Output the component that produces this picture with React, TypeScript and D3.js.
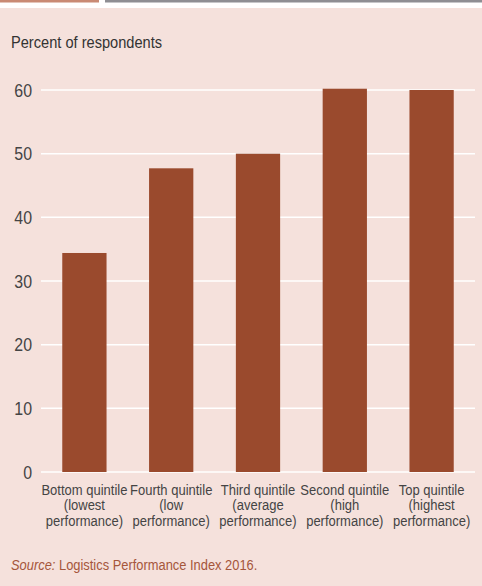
import React from "react";
import * as d3 from "d3";

const categories: string[][] = [
  ["Bottom quintile", "(lowest", "performance)"],
  ["Fourth quintile", "(low", "performance)"],
  ["Third quintile", "(average", "performance)"],
  ["Second quintile", "(high", "performance)"],
  ["Top quintile", "(highest", "performance)"],
];
const values: number[] = [34.4, 47.7, 50.0, 60.2, 60.0];
const yTicks: number[] = [0, 10, 20, 30, 40, 50, 60];

const W = 482;
const H = 586;
const FONT = "'Liberation Sans', Arial, sans-serif";
const SX = 0.86;
const SX_CAT = 0.85;

export default function App() {
  const left = 41;
  const right = 475;
  const y0 = 472;
  const y60 = 90;
  const x = d3
    .scaleBand<number>()
    .domain(d3.range(categories.length))
    .range([left, right])
    .paddingInner(0.49)
    .paddingOuter(0.245);
  const y = d3.scaleLinear().domain([0, 60]).range([y0, y60]);

  return (
    <svg
      width={W}
      height={H}
      style={{ position: "absolute", left: 0, top: 0, display: "block" }}
      fontFamily={FONT}
    >
      <rect x={0} y={0} width={W} height={H} fill="#ffffff" />
      <rect x={0} y={8} width={W} height={H - 8} fill="#f5e1dc" />
      <rect x={0} y={0} width={99} height={2.5} fill="#c98a74" />
      <rect x={105} y={0} width={W - 105} height={2.5} fill="#8e8e93" />
      <g transform={`translate(11,48) scale(${SX},1)`}>
        <text x={0} y={0} fontSize={17} fill="#333333">
          Percent of respondents
        </text>
      </g>
      {yTicks.map((t) => (
        <g key={t}>
          <line x1={left} x2={right} y1={y(t)} y2={y(t)} stroke="#ffffff" strokeWidth={1.5} />
          <g transform={`translate(32,${y(t)}) scale(${SX},1)`}>
            <text x={0} y={0} dy="0.36em" textAnchor="end" fontSize={18.5} fill="#444444">
              {t}
            </text>
          </g>
        </g>
      ))}
      {values.map((v, i) => (
        <rect
          key={i}
          x={x(i)!}
          y={y(v)}
          width={x.bandwidth()}
          height={y(0) - y(v)}
          fill="#9a4a2d"
        />
      ))}
      {categories.map((lines, i) => (
        <g key={i} transform={`translate(${x(i)! + x.bandwidth() / 2},495) scale(${SX_CAT},1)`}>
          <text x={0} y={0} textAnchor="middle" fontSize={15.3} fill="#444444">
            {lines.map((l, j) => (
              <tspan key={j} x={0} dy={j === 0 ? 0 : 15.5}>
                {l}
              </tspan>
            ))}
          </text>
        </g>
      ))}
      <g transform={`translate(11,570) scale(${SX},1)`}>
        <text x={0} y={0} fontSize={15} fill="#a5563b">
          <tspan fontStyle="italic">Source:</tspan>
          <tspan> Logistics Performance Index 2016.</tspan>
        </text>
      </g>
    </svg>
  );
}
